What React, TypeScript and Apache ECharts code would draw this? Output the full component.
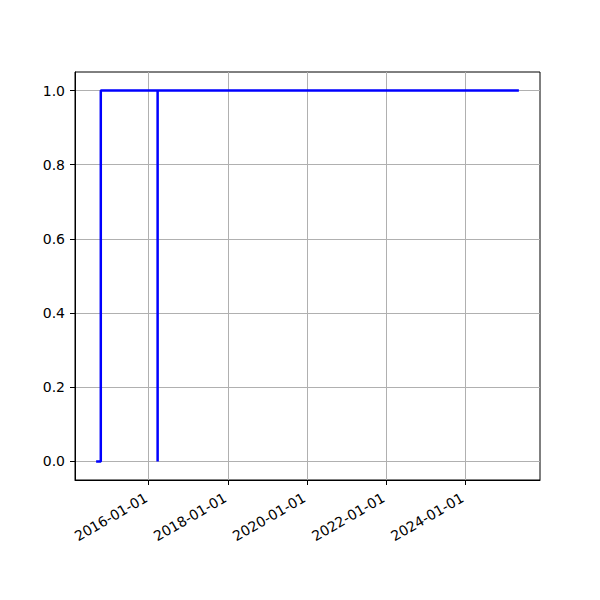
import React, { useEffect, useRef } from "react";
import * as echarts from "echarts";

const dates = [
  "2014-09-03",
  "2014-10-16",
  "2014-10-16",
  "2016-03-24",
  "2016-03-24",
  "2016-03-24",
  "2025-05-13",
];
const values = [0, 0, 1, 1, 0, 1, 1];
const xTicks = ["2016-01-01", "2018-01-01", "2020-01-01", "2022-01-01", "2024-01-01"];
const yTicks = [0, 0.2, 0.4, 0.6, 0.8, 1.0];

const pad2 = (n: number) => (n < 10 ? "0" + n : "" + n);
const fmtDate = (v: number) => {
  const d = new Date(v);
  return d.getUTCFullYear() + "-" + pad2(d.getUTCMonth() + 1) + "-" + pad2(d.getUTCDate());
};

export default function App() {
  const ref = useRef<HTMLDivElement>(null);
  useEffect(() => {
    if (!ref.current) return;
    const chart = echarts.init(ref.current, undefined, { renderer: "svg" });
    const ts = dates.map((d) => Date.parse(d + "T00:00:00Z"));
    const tMin = Math.min(...ts);
    const tMax = Math.max(...ts);
    const m = (tMax - tMin) * 0.05;
    const xTickTs = xTicks.map((d) => Date.parse(d + "T00:00:00Z"));
    chart.setOption({
      animation: false,
      textStyle: { fontFamily: "DejaVu Sans" },
      grid: {
        left: 75,
        top: 72,
        right: 60,
        bottom: 120,
        show: true,
        borderColor: "#000",
        borderWidth: 1,
        backgroundColor: "transparent",
      },
      xAxis: {
        type: "value",
        min: tMin - m,
        max: tMax + m,
        axisLine: { show: true, onZero: false, lineStyle: { color: "#000", width: 1 } },
        axisTick: {
          show: true,
          length: 5,
          lineStyle: { color: "#000", width: 1 },
          customValues: xTickTs,
        },
        axisLabel: {
          customValues: xTickTs,
          rotate: 30,
          margin: 7,
          verticalAlign: "top",
          padding: [0, 7, 0, 0],
          color: "#000",
          fontSize: 14,
          fontFamily: "DejaVu Sans",
          formatter: (v: number) => fmtDate(v),
          hideOverlap: false,
        },
        splitLine: { show: true, lineStyle: { color: "#b0b0b0", width: 1 } },
      },
      yAxis: {
        type: "value",
        min: -0.05,
        max: 1.05,
        axisLine: { show: true, onZero: false, lineStyle: { color: "#000", width: 1 } },
        axisTick: {
          show: true,
          length: 5,
          lineStyle: { color: "#000", width: 1 },
          customValues: yTicks,
        },
        axisLabel: {
          customValues: yTicks,
          margin: 10,
          color: "#000",
          fontSize: 14,
          fontFamily: "DejaVu Sans",
          formatter: (v: number) => v.toFixed(1),
        },
        splitLine: { show: true, lineStyle: { color: "#b0b0b0", width: 1 } },
      },
      series: [
        {
          type: "line",
          data: ts.map((t, i) => [t, values[i]]),
          showSymbol: false,
          symbol: "none",
          lineStyle: { color: "#0000ff", width: 2.5 },
          itemStyle: { color: "#0000ff" },
        },
      ],
    });
    return () => chart.dispose();
  }, []);
  return <div ref={ref} style={{ width: 600, height: 600, margin: -8 }} />;
}
